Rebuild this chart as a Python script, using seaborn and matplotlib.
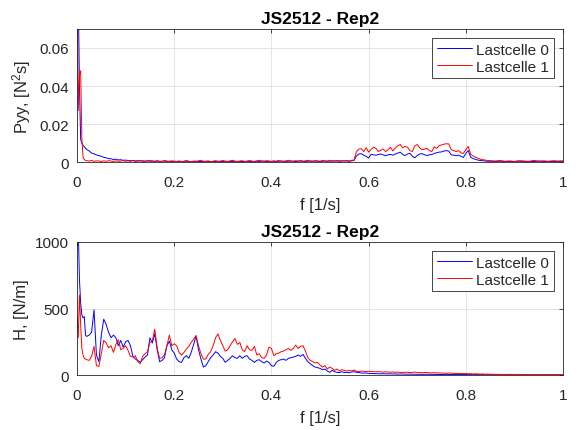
import matplotlib
matplotlib.use("Agg")
import matplotlib.pyplot as plt
import numpy as np
import pandas as pd
import seaborn as sns

# frequency grid [1/s]: fine near zero, then 0.005 steps, then 0.01 steps
freq = np.concatenate([np.linspace(0, 0.0175, 8),
                       np.linspace(0.02, 0.845, 166),
                       np.linspace(0.85, 1.0, 16)])

labels = ["Lastcelle 0", "Lastcelle 1"]
title = "JS2512 - Rep2"

# Pyy [N^2 s], Lastcelle 0
pyy_0 = [0.12, 0.09, 0.04, 0.012, 0.0100, 0.0088, 0.0080, 0.0072,
         0.0066, 0.0058, 0.0047, 0.0043, 0.0037, 0.0034, 0.0030, 0.0025, 0.0022, 0.0018,
         0.0017, 0.0013, 0.0015, 0.0011, 0.0012, 0.0009, 0.0010,
         0.0008, 0.0007, 0.0008, 0.0006, 0.0007, 0.0005, 0.0006, 0.0005, 0.0006, 0.0004,
         0.0005, 0.0004, 0.0005, 0.0003, 0.0004, 0.0005, 0.0003, 0.0004, 0.0003, 0.0004,
         0.0003, 0.0004, 0.0002, 0.0003, 0.0004, 0.0003, 0.0002, 0.0003, 0.0004, 0.0003,
         0.0002, 0.0003, 0.0004, 0.0003, 0.0002, 0.0003, 0.0003, 0.0004, 0.0002, 0.0003,
         0.0004, 0.0003, 0.0002, 0.0003, 0.0004, 0.0003, 0.0003, 0.0002, 0.0003, 0.0004,
         0.0003, 0.0002, 0.0003, 0.0004, 0.0003, 0.0005, 0.0004, 0.0003, 0.0004, 0.0003,
         0.0004, 0.0003, 0.0004, 0.0005, 0.0004, 0.0003, 0.0004, 0.0005, 0.0004, 0.0003,
         0.0004, 0.0005, 0.0004, 0.0003, 0.0004, 0.0005, 0.0004, 0.0005, 0.0004, 0.0003,
         0.0004, 0.0005, 0.0004, 0.0005, 0.0004, 0.0006, 0.0005, 0.0004, 0.0005, 0.0006,
         0.0005, 0.0004, 0.0006,
         0.0008, 0.0032, 0.0042, 0.0044, 0.0035, 0.0030, 0.0021, 0.0040, 0.0038, 0.0036,
         0.0039, 0.0042, 0.0038, 0.0033, 0.0038, 0.0040, 0.0036, 0.0042, 0.0047, 0.0052,
         0.0040, 0.0034, 0.0042, 0.0046, 0.0030, 0.0022, 0.0034, 0.0042, 0.0044, 0.0038,
         0.0034, 0.0038, 0.0039, 0.0045, 0.0049, 0.0052, 0.0053, 0.0058, 0.0060, 0.0057,
         0.0038, 0.0036, 0.0033, 0.0036, 0.0030, 0.0024, 0.0045, 0.0060, 0.0025, 0.0018,
         0.0014, 0.0010, 0.0008, 0.0007, 0.0005, 0.0004,
         0.0004, 0.0003, 0.0004, 0.0003, 0.0002, 0.0003, 0.0004, 0.0003, 0.0002, 0.0003,
         0.0004, 0.0003, 0.0003, 0.0002, 0.0003, 0.0004]

# Pyy [N^2 s], Lastcelle 1
pyy_1 = [0.12, 0.027, 0.046, 0.048, 0.012, 0.0025, 0.0012, 0.0009,
         0.0007, 0.0005, 0.0008, 0.0004, 0.0006, 0.0005, 0.0003, 0.0006, 0.0004, 0.0007,
         0.0005, 0.0003, 0.0006, 0.0004, 0.0005, 0.0007, 0.0004,
         0.0006, 0.0004, 0.0007, 0.0003, 0.0005, 0.0008, 0.0004, 0.0003, 0.0006, 0.0009,
         0.0005, 0.0003, 0.0007, 0.0004, 0.0003, 0.0008, 0.0005, 0.0003, 0.0006, 0.0004,
         0.0002, 0.0005, 0.0003, 0.0004, 0.0008, 0.0004, 0.0002, 0.0005, 0.0003, 0.0006,
         0.0009, 0.0004, 0.0003, 0.0006, 0.0002, 0.0004, 0.0007, 0.0003, 0.0005, 0.0008,
         0.0004, 0.0003, 0.0006, 0.0009, 0.0004, 0.0003, 0.0005, 0.0007, 0.0003, 0.0004,
         0.0008, 0.0005, 0.0003, 0.0006, 0.0009, 0.0005, 0.0004, 0.0007, 0.0005, 0.0003,
         0.0006, 0.0004, 0.0008, 0.0005, 0.0003, 0.0006, 0.0009, 0.0005, 0.0004, 0.0007,
         0.0005, 0.0008, 0.0004, 0.0006, 0.0009, 0.0005, 0.0004, 0.0007, 0.0006, 0.0004,
         0.0008, 0.0006, 0.0005, 0.0009, 0.0006, 0.0005, 0.0008, 0.0006, 0.0007, 0.0005,
         0.0008, 0.0006, 0.0009,
         0.0010, 0.0055, 0.0068, 0.0070, 0.0055, 0.0075, 0.0052, 0.0065, 0.0078, 0.0072,
         0.0055, 0.0062, 0.0068, 0.0055, 0.0065, 0.0078, 0.0058, 0.0075, 0.0085, 0.0092,
         0.0075, 0.0082, 0.0078, 0.0060, 0.0055, 0.0085, 0.0092, 0.0075, 0.0065, 0.0068,
         0.0072, 0.0060, 0.0055, 0.0080, 0.0072, 0.0085, 0.0090, 0.0094, 0.0096, 0.0095,
         0.0065, 0.0060, 0.0055, 0.0060, 0.0048, 0.0045, 0.0065, 0.0082, 0.0040, 0.0032,
         0.0025, 0.0020, 0.0015, 0.0012, 0.0010, 0.0008,
         0.0007, 0.0005, 0.0008, 0.0004, 0.0006, 0.0003, 0.0007, 0.0005, 0.0004, 0.0008,
         0.0005, 0.0006, 0.0004, 0.0007, 0.0005, 0.0006]

# H [N/m], Lastcelle 0
h_0 = [1500, 1100, 720, 540, 450, 430, 440, 300,
       290, 300, 320, 490, 150, 100, 300, 420, 380, 320, 280, 300, 280, 220, 260, 210, 250,
       260, 220, 140, 120, 110, 95, 115, 135, 150, 280,
       240, 310, 190, 100, 110, 130, 220, 255, 190, 165,
       120, 100, 95, 130, 145, 125, 170, 230, 295, 190,
       120, 60, 70, 100, 130, 150, 175, 165, 140, 125,
       95, 110, 125, 145, 130, 125, 145, 125, 140, 145,
       120, 110, 95, 110, 115, 100, 90, 105, 95, 70,
       65, 95, 110, 115, 120, 110, 125, 130, 135, 140,
       150, 140, 155, 125, 100, 85, 70, 60, 55, 50,
       40, 45, 30, 20, 35, 25, 20, 18, 25, 18,
       20, 18, 22,
       25, 20, 18, 15, 14, 15, 12,
       12, 11, 10, 10, 9, 10, 9, 8, 9, 8, 8, 7, 8, 7, 7, 6, 7, 6, 6, 5,
       6, 5, 5, 6, 5, 5, 4, 5, 4, 4, 4, 5, 4, 4, 3, 4, 3, 3, 4, 3,
       3, 3, 2, 3, 3, 2, 3, 2, 2,
       2, 2, 2, 1, 2, 1, 1, 2, 1, 1, 1, 2, 1, 1, 1, 1]

# H [N/m], Lastcelle 1
h_1 = [460, 280, 600, 380, 200, 150, 125, 120,
       115, 110, 140, 215, 70, 65, 160, 260, 240, 205, 220, 170, 230, 265, 190, 200, 220,
       185, 140, 135, 145, 100, 85, 140, 160, 175, 245,
       255, 345, 200, 125, 130, 150, 220, 300, 220, 235,
       220, 170, 150, 170, 195, 215, 245, 270, 295, 220,
       160, 120, 120, 155, 175, 220, 280, 310, 260, 220,
       180, 190, 220, 250, 275, 230, 245, 190, 175, 220,
       190, 185, 215, 150, 160, 130, 125, 150, 210, 200,
       145, 160, 165, 175, 180, 190, 200, 185, 200, 225,
       200, 215, 220, 180, 130, 110, 100, 90, 95, 75,
       60, 70, 45, 60, 50, 35, 45, 30, 40, 35,
       30, 35, 30,
       38, 28, 25, 30, 27, 25, 28,
       27, 25, 24, 26, 23, 22, 24, 22, 21, 23, 20, 22, 20, 19, 21, 20, 18, 20, 22, 19,
       18, 17, 19, 18, 17, 16, 18, 15, 16, 14, 15, 13, 14, 15, 12, 13, 11, 12, 10, 11,
       9, 10, 8, 9, 8, 7, 8, 6, 7,
       6, 5, 5, 4, 5, 4, 4, 3, 4, 3, 3, 4, 3, 3, 3, 3]

for arr in (pyy_0, pyy_1, h_0, h_1):
    assert len(arr) == len(freq), (len(arr), len(freq))

sns.set_theme(style="white")
plt.rcParams["font.family"] = ["Liberation Sans", "DejaVu Sans"]
plt.rcParams["mathtext.fontset"] = "custom"
plt.rcParams["mathtext.rm"] = "Liberation Sans"
plt.rcParams["mathtext.it"] = "Liberation Sans:italic"

palette = {"Lastcelle 0": "#0000FF", "Lastcelle 1": "#FF0000"}
txt = "#262626"

fig = plt.figure(figsize=(5.79, 4.31), dpi=100)
ax1 = fig.add_axes([0.133, 0.6218, 0.8394, 0.3086])
ax2 = fig.add_axes([0.133, 0.1276, 0.8394, 0.3086])


def draw(ax, v0, v1, ylim, yticks, yticklabels, ylabel):
    df = pd.DataFrame({"f": np.tile(freq, 2),
                       "val": list(v0) + list(v1),
                       "serie": [labels[0]] * len(freq) + [labels[1]] * len(freq)})
    sns.lineplot(data=df, x="f", y="val", hue="serie", palette=palette,
                 estimator=None, linewidth=0.7, ax=ax)
    ax.set_xlim(0, 1)
    ax.set_ylim(*ylim)
    ax.set_xticks([0, 0.2, 0.4, 0.6, 0.8, 1])
    ax.set_xticklabels(["0", "0.2", "0.4", "0.6", "0.8", "1"])
    ax.set_yticks(yticks)
    ax.set_yticklabels(yticklabels)
    ax.grid(True, color="#DFDFDF", linewidth=0.6)
    ax.set_axisbelow(True)
    for s in ax.spines.values():
        s.set_color(txt)
        s.set_linewidth(0.6)
    ax.tick_params(axis="both", direction="in", length=3, width=0.6, color=txt,
                   labelsize=11, labelcolor=txt, top=True, right=True,
                   labeltop=False, labelright=False)
    ax.tick_params(axis="x", pad=9)
    ax.tick_params(axis="y", pad=6)
    ax.set_xlabel("f [1/s]", fontsize=12, color=txt, labelpad=6)
    ax.set_ylabel(ylabel, fontsize=12, color=txt, labelpad=4)
    ax.set_title(title, fontsize=12.5, fontweight="bold", color="black", pad=4)
    handles, labs = ax.get_legend_handles_labels()
    leg = ax.legend(handles, labs, loc="upper right", fontsize=11, frameon=True,
                    fancybox=False, edgecolor=txt, framealpha=1, handlelength=2.3,
                    borderaxespad=0.6, borderpad=0.3, labelspacing=0.2,
                    handletextpad=0.3)
    leg.get_frame().set_linewidth(0.6)


draw(ax1, pyy_0, pyy_1, (0, 0.07), [0, 0.02, 0.04, 0.06],
     ["0", "0.02", "0.04", "0.06"], r"Pyy, [N$^2$s]")
draw(ax2, h_0, h_1, (0, 1000), [0, 500, 1000], ["0", "500", "1000"], "H, [N/m]")

fig.savefig("out.png", dpi=100)
